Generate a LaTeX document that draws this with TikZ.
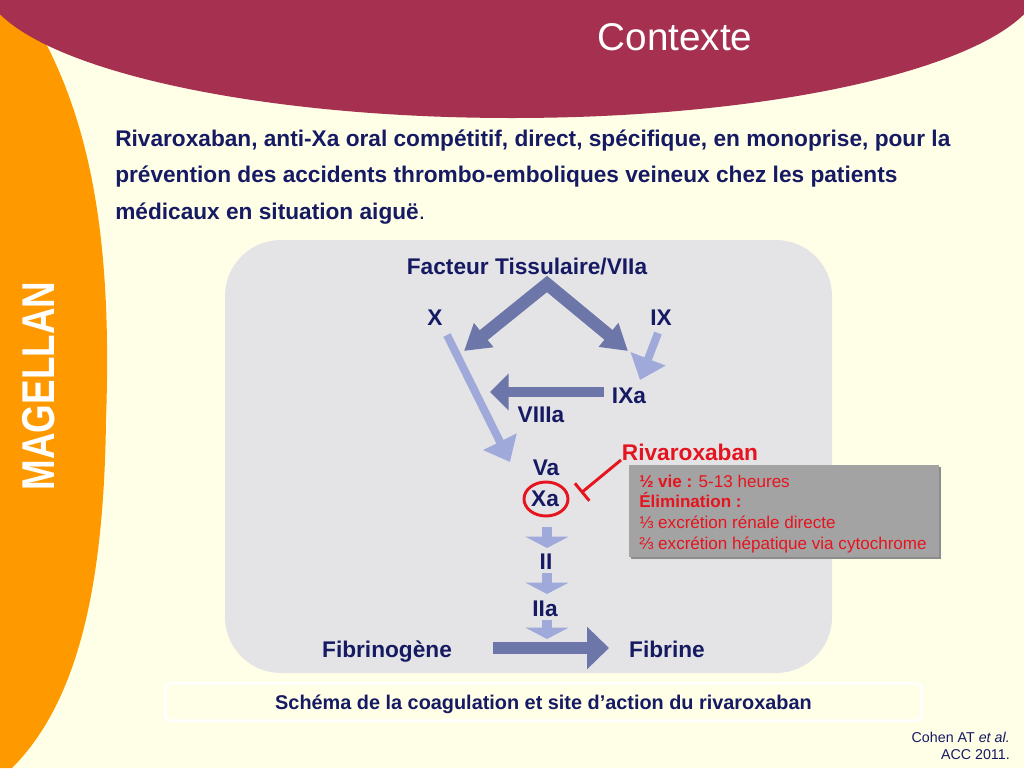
\documentclass[tikz,border=0pt]{standalone}
\usepackage{fontspec}
\setmainfont{Liberation Sans}
\usetikzlibrary{arrows.meta,shapes.geometric}
\definecolor{cream}{RGB}{255,255,232}
\definecolor{orangeband}{RGB}{255,153,0}
\definecolor{wine}{RGB}{166,48,80}
\definecolor{navy}{RGB}{22,26,98}
\definecolor{panel}{RGB}{228,228,230}
\definecolor{arrdark}{RGB}{108,118,168}
\definecolor{arrlight}{RGB}{160,170,218}
\definecolor{rivred}{RGB}{230,20,30}
\definecolor{boxgray}{RGB}{163,163,163}
\definecolor{boxshadow}{RGB}{140,140,140}
\tikzset{
  lbl/.style={anchor=base, inner sep=0pt, text=navy, font=\fontsize{17}{20}\selectfont\bfseries},
  infotxt/.style={anchor=base west, inner sep=0pt, text=rivred, font=\fontsize{12.8}{15}\selectfont},
  headtxt/.style={anchor=base west, inner sep=0pt, text=navy, font=\fontsize{17}{20}\selectfont\bfseries},
  darkarr/.style={draw=arrdark, line width=8pt, -{Triangle[width=27pt,length=14pt]}},
  chev/.style={draw=arrdark, line width=9.5pt, line join=miter, {Triangle[width=22pt,length=19pt]}-{Triangle[width=22pt,length=19pt]}},
  lightarr/.style={draw=arrlight, line width=6pt, -{Triangle[width=27pt,length=17pt]}},
  smallarr/.style={draw=arrlight, line width=7.5pt, -{Triangle[width=32pt,length=8.5pt]}},
  bigharr/.style={draw=arrdark, line width=9pt, -{Triangle[width=31pt,length=16.5pt]}}
}
\begin{document}
\begin{tikzpicture}[x=0.75pt,y=-0.75pt]
\useasboundingbox (0,0) rectangle (1024,768);
\fill[cream] (0,0) rectangle (1024,768);
% orange band
\fill[orangeband] (0,0) -- (20,0) .. controls (95,110) and (112,250) .. (106,420)
  .. controls (104,580) and (80,700) .. (12,768) -- (0,768) -- cycle;
% title ellipse
\fill[wine] (512,-22) ellipse [x radius=530, y radius=140];
\node[anchor=base, inner sep=0pt, text=white, font=\fontsize{29}{32}\selectfont] (title) at (675,50) {Contexte};
% MAGELLAN
\node[rotate=90, inner sep=0pt, text=white, font=\fontsize{34.5}{36}\selectfont\bfseries, xscale=0.8] (mag) at (39,386) {MAGELLAN};
% heading
\node[headtxt] (h1) at (115,146) {Rivaroxaban, anti-Xa oral compétitif, direct, spécifique, en monoprise, pour la};
\node[headtxt] (h2) at (115,182) {prévention des accidents thrombo-emboliques veineux chez les patients};
\node[headtxt] (h3) at (115,219) {médicaux en situation aiguë\textmd{.}};
% panel
\fill[panel, rounded corners=42pt] (225,240) rectangle (832,673);
% caption box
\node[draw=white, line width=2pt, fill=cream, rounded corners=4pt, minimum width=567pt, minimum height=28pt, inner sep=0pt] (capbox) at (543.5,702) {};
\node[anchor=base, inner sep=0pt, text=navy, font=\fontsize{14.9}{17}\selectfont\bfseries] (cap) at (543.5,709) {Schéma de la coagulation et site d’action du rivaroxaban};
% reference
\node[anchor=base east, inner sep=0pt, text=navy, font=\fontsize{10.7}{12}\selectfont] (ref1) at (1010,742) {Cohen AT \textit{et al.}};
\node[anchor=base east, inner sep=0pt, text=navy, font=\fontsize{10.7}{12}\selectfont] (ref2) at (1010,759) {ACC 2011.};
% labels
\node[lbl] (ft) at (527,274) {Facteur Tissulaire/VIIa};
\node[lbl] (x) at (435,325) {X};
\node[lbl] (ix) at (661,325) {IX};
\node[lbl] (ixa) at (629,403) {IXa};
\node[lbl] (viiia) at (541,422) {VIIIa};
\node[lbl] (va) at (546,475) {Va};
\node[lbl] (xa) at (545,506) {Xa};
\node[lbl] (ii) at (546,569) {II};
\node[lbl] (iia) at (545,616) {IIa};
\node[lbl] (fgen) at (387,657) {Fibrinogène};
\node[lbl] (fib) at (667,657) {Fibrine};
\node[lbl, text=rivred] (riv) at (690,460) {Rivaroxaban};
% Xa circle
\node[ellipse, draw=rivred, line width=2.2pt, minimum width=33pt, minimum height=25.5pt, inner sep=0pt] (xacirc) at (546,499) {};
% info box
\fill[boxshadow] (631,467) rectangle (941,559);
\node[fill=boxgray, minimum width=232.5pt, minimum height=69pt, inner sep=0pt] (info) at (784,511) {};
\node[infotxt] (i1) at (639,487) {\textbf{½ vie :} 5-13 heures};
\node[infotxt] (i2) at (639,507) {\textbf{Élimination :}};
\node[infotxt] (i3) at (639,528) {⅓ excrétion rénale directe};
\node[infotxt] (i4) at (639,549) {⅔ excrétion hépatique via cytochrome};
% coordinates for arrows
\coordinate (apex) at (547,284);
\coordinate (chl) at (464,351);
\coordinate (chr) at (628,351);
\coordinate (xs) at (447,335);
\coordinate (xe) at (510,462);
\coordinate (ixs) at (658,333);
\coordinate (ixe) at (640,380);
\coordinate (ixas) at (604,392);
\coordinate (ixae) at (490,392);
\coordinate (a1s) at (547,527);
\coordinate (a1e) at (547,548);
\coordinate (a2s) at (547,573);
\coordinate (a2e) at (547,594);
\coordinate (a3s) at (547,620);
\coordinate (a3e) at (547,639);
\coordinate (fs) at (493,648);
\coordinate (fe) at (609,648);
\coordinate (inhs) at (621,460);
\coordinate (inhe) at (581,493);
% arrows
\draw[chev] (chl) -- (apex) -- (chr);
\draw[lightarr] (xs) -- (xe);
\draw[lightarr] (ixs) -- (ixe);
\draw[darkarr] (ixas) -- (ixae);
\draw[bigharr] (fs) -- (fe);
\draw[smallarr] (a1s) -- (a1e);
\draw[smallarr] (a2s) -- (a2e);
\draw[smallarr] (a3s) -- (a3e);
\draw[draw=rivred, line width=2.2pt, -{Bar[width=17pt]}] (inhs) -- (inhe);
\end{tikzpicture}
\end{document}
